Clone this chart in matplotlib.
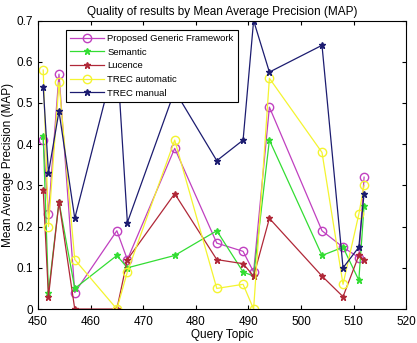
import matplotlib
matplotlib.use("Agg")
import matplotlib.pyplot as plt

plt.rcParams["font.family"] = ["Liberation Sans", "DejaVu Sans"]

# query topics (x axis)
topics = [451, 452, 454, 457, 465, 467, 476, 484, 489, 491, 494, 504, 508, 511, 512]

# MAP per topic for each method
proposed = [0.41, 0.23, 0.57, 0.04, 0.19, 0.12, 0.39, 0.16, 0.14, 0.09, 0.49, 0.19, 0.15, 0.125, 0.32]
semantic = [0.42, 0.04, 0.26, 0.05, 0.13, 0.10, 0.13, 0.19, 0.09, 0.08, 0.41, 0.13, 0.15, 0.07, 0.25]
lucence = [0.29, 0.03, 0.26, 0.00, 0.00, 0.12, 0.28, 0.12, 0.11, 0.08, 0.22, 0.08, 0.03, 0.13, 0.12]
trec_auto = [0.58, 0.20, 0.55, 0.12, 0.00, 0.09, 0.41, 0.05, 0.06, 0.00, 0.56, 0.38, 0.06, 0.23, 0.30]
trec_manual = [0.54, 0.33, 0.48, 0.22, 0.62, 0.21, 0.53, 0.36, 0.41, 0.70, 0.575, 0.64, 0.10, 0.15, 0.28]

fig = plt.figure(figsize=(4.17, 3.43), dpi=100)
ax = fig.add_axes([0.091, 0.099, 0.883, 0.841])

lw = 0.9
ax.plot(topics, proposed, color="#c040c0", marker="o", mfc="none", ms=6, lw=lw,
        label="Proposed Generic Framework")
ax.plot(topics, semantic, color="#33dd33", marker="*", ms=5, lw=lw, label="Semantic")
ax.plot(topics, lucence, color="#b02838", marker="*", ms=5, lw=lw, label="Lucence")
ax.plot(topics, trec_auto, color="#f4f430", marker="o", mfc="none", ms=6, lw=lw,
        label="TREC automatic")
ax.plot(topics, trec_manual, color="#1c1c70", marker="*", ms=5, lw=lw, label="TREC manual")

ax.set_xlim(450, 520)
ax.set_ylim(0, 0.7)
ax.set_xticks(range(450, 521, 10))
ax.set_yticks([0, 0.1, 0.2, 0.3, 0.4, 0.5, 0.6, 0.7])
ax.set_yticklabels(["0", "0.1", "0.2", "0.3", "0.4", "0.5", "0.6", "0.7"])
ax.tick_params(labelsize=8.5, direction="in", length=3, top=True, right=True)
ax.tick_params(axis="x", pad=5)

ax.set_title("Quality of results by Mean Average Precision (MAP)", fontsize=8.5, pad=4)
ax.set_xlabel("Query Topic", fontsize=8.5, labelpad=1)
ax.set_ylabel("Mean Average Precision (MAP)", fontsize=8.5, labelpad=2)

leg = ax.legend(loc="upper left", bbox_to_anchor=(0.064, 0.985), fontsize=6.8,
                frameon=True, fancybox=False, framealpha=1, edgecolor="black",
                handlelength=3.6, borderpad=0.45, labelspacing=0.5, handletextpad=0.3)
leg.get_frame().set_linewidth(0.8)

fig.savefig("out.png", dpi=100)
